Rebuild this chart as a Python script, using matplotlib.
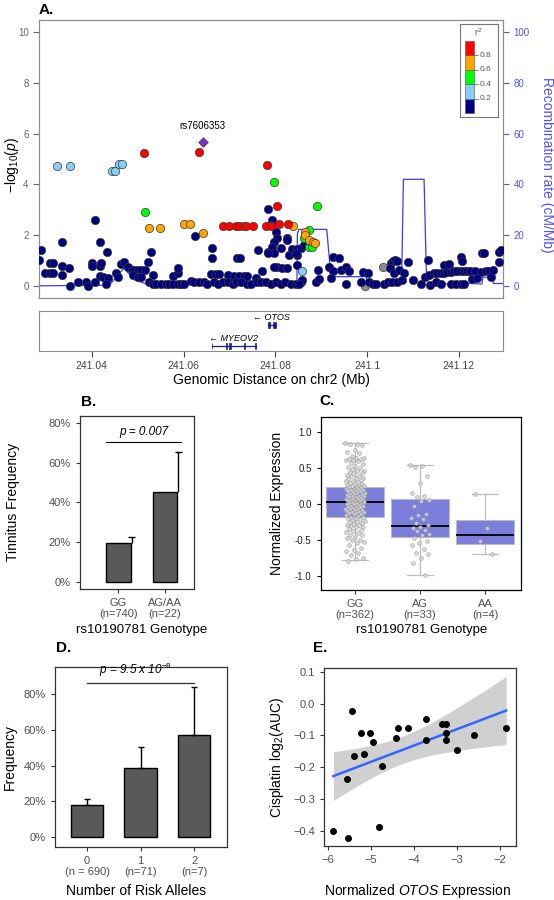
import numpy as np
import matplotlib
matplotlib.use("Agg")
import matplotlib.pyplot as plt
from matplotlib.patches import Rectangle

plt.rcParams["font.family"] = ["Liberation Sans", "DejaVu Sans"]
plt.rcParams["mathtext.fontset"] = "custom"
plt.rcParams["mathtext.rm"] = "Liberation Sans"
plt.rcParams["mathtext.it"] = "Liberation Sans:italic"
plt.rcParams["mathtext.bf"] = "Liberation Sans:bold"

# ---------------- A. regional association plot ----------------
navy_mb = [241.0286, 241.0290, 241.0297, 241.0308, 241.0308, 241.0315, 241.0315, 241.0335, 241.0335, 241.0336,
           241.0351, 241.0353, 241.0370, 241.0388, 241.0391, 241.0401, 241.0401, 241.0406, 241.0408, 241.0417,
           241.0417, 241.0420, 241.0417, 241.0424, 241.0433, 241.0435, 241.0431, 241.0453, 241.0457, 241.0464,
           241.0470, 241.0478, 241.0488, 241.0493, 241.0500, 241.0507, 241.0515, 241.0489, 241.0500, 241.0507,
           241.0522, 241.0528, 241.0533, 241.0525, 241.0533, 241.0540, 241.0551, 241.0562, 241.0569, 241.0576,
           241.0587, 241.0594, 241.0601, 241.0616, 241.0623, 241.0634, 241.0645, 241.0652, 241.0576, 241.0587,
           241.0587, 241.0625, 241.0663, 241.0663, 241.0659, 241.0670, 241.0678, 241.0667, 241.0674, 241.0685,
           241.0696, 241.0710, 241.0721, 241.0732, 241.0739, 241.0717, 241.0723, 241.0696, 241.0707, 241.0714,
           241.0725, 241.0739, 241.0746, 241.0757, 241.0761, 241.0768, 241.0779, 241.0790, 241.0801, 241.0812,
           241.0822, 241.0833, 241.0844, 241.0855, 241.0762, 241.0770, 241.0784, 241.0784, 241.0792, 241.0790,
           241.0801, 241.0803, 241.0797, 241.0793, 241.0797, 241.0783, 241.0804, 241.0797, 241.0815, 241.0825,
           241.0812, 241.0825, 241.0826, 241.0830, 241.0837, 241.0848, 241.0855, 241.0848, 241.0848, 241.0862,
           241.0845, 241.0859, 241.0852, 241.0892, 241.0888, 241.0896, 241.0925, 241.0939, 241.0917, 241.0926,
           241.0921, 241.0943, 241.0954, 241.0961, 241.0955, 241.0986, 241.0990, 241.1001, 241.1004, 241.1012,
           241.1020, 241.1037, 241.1046, 241.1051, 241.1057, 241.1061, 241.1066, 241.1049, 241.1059, 241.1070,
           241.1055, 241.1066, 241.1077, 241.1080, 241.1089, 241.1099, 241.1117, 241.1133, 241.1138, 241.1126,
           241.1135, 241.1146, 241.1153, 241.1160, 241.1167, 241.1175, 241.1182, 241.1189, 241.1196, 241.1204,
           241.1211, 241.1218, 241.1225, 241.1236, 241.1247, 241.1258, 241.1265, 241.1167, 241.1178, 241.1204,
           241.1207, 241.1182, 241.1193, 241.1204, 241.1211, 241.1251, 241.1255, 241.1229, 241.1240, 241.1269,
           241.1274, 241.1287, 241.1288, 241.1291, 241.1149, 241.1160]
navy_logp = [1.02, 1.42, 0.50, 0.50, 0.89, 0.50, 0.89, 0.79, 0.43, 1.75,
             0.70, 0.01, 0.14, 0.14, 0.02, 0.89, 0.80, 0.14, 2.60, 1.72,
             0.80, 0.89, 0.39, 0.37, 1.33, 0.30, 0.10, 0.50, 0.37, 0.85,
             0.96, 0.76, 0.63, 0.63, 0.63, 0.63, 0.63, 0.43, 0.37, 0.37,
             0.96, 1.35, 0.43, 0.14, 0.10, 0.10, 0.10, 0.10, 0.10, 0.10,
             0.07, 0.10, 0.10, 0.20, 0.14, 0.14, 0.14, 0.10, 0.41, 0.50,
             0.72, 1.98, 1.48, 1.09, 0.46, 0.46, 0.46, 0.14, 0.07, 0.14,
             0.43, 0.41, 0.41, 0.41, 0.41, 1.09, 1.09, 0.14, 0.10, 0.14,
             0.14, 0.07, 0.10, 0.33, 0.14, 0.14, 0.14, 0.10, 0.14, 0.10,
             0.14, 0.10, 0.10, 0.14, 1.42, 0.59, 1.33, 3.03, 2.60, 2.40,
             2.14, 1.88, 1.75, 1.55, 1.29, 1.29, 0.76, 0.76, 0.72, 0.70,
             1.48, 1.90, 1.81, 1.22, 1.46, 1.46, 1.51, 1.22, 0.83, 1.61,
             1.29, 0.24, 0.10, 0.63, 0.17, 0.26, 1.15, 1.09, 0.76, 0.60,
             0.30, 0.63, 0.76, 0.60, 0.10, 0.17, 0.56, 0.50, 0.17, 0.10,
             0.08, 0.08, 0.17, 0.89, 0.98, 1.02, 0.98, 0.70, 0.50, 0.63,
             0.17, 0.17, 0.24, 0.50, 0.96, 0.24, 0.08, 1.02, 0.04, 0.37,
             0.43, 0.50, 0.50, 0.52, 0.52, 0.56, 0.56, 0.60, 0.60, 0.60,
             0.60, 0.60, 0.60, 0.60, 0.56, 0.60, 0.60, 0.83, 0.87, 1.15,
             1.00, 0.10, 0.10, 0.08, 0.10, 1.29, 1.29, 0.26, 0.30, 0.37,
             0.63, 1.35, 0.96, 1.42, 0.17, 0.10]
grey_mb = [241.1035, 241.0995]
grey_logp = [0.76, 0.00]
lblue_mb = [241.0325, 241.0352, 241.0445, 241.0450, 241.0460, 241.0465, 241.0859]
lblue_logp = [4.74, 4.72, 4.54, 4.54, 4.79, 4.81, 0.60]
green_mb = [241.0517, 241.0796, 241.0891, 241.0874, 241.0862, 241.0874, 241.0879]
green_logp = [2.90, 4.11, 3.16, 2.20, 1.88, 1.55, 1.55]
orange_mb = [241.0524, 241.0549, 241.0600, 241.0614, 241.0643, 241.0839, 241.0865, 241.0865,
             241.0874, 241.0881, 241.0886]
orange_logp = [2.30, 2.30, 2.43, 2.43, 2.07, 2.37, 2.11, 2.01, 1.81, 1.75, 1.68]
red_mb = [241.0513, 241.0633, 241.0782, 241.0804, 241.0686, 241.0698, 241.0715, 241.0720, 241.0732,
          241.0735, 241.0752, 241.0779, 241.0790, 241.0808, 241.0828]
red_logp = [5.25, 5.29, 4.78, 3.16, 2.36, 2.36, 2.36, 2.36, 2.36, 2.36, 2.36, 2.36, 2.36, 2.43, 2.43]
lead_snp = "rs7606353"
lead_mb = 241.0642
lead_logp = 5.66

recomb_mb = [241.0285, 241.0438, 241.0470, 241.0493, 241.0522, 241.0707, 241.0765, 241.0847, 241.0848,
             241.0851, 241.0912, 241.0921, 241.0997, 241.1002, 241.1075, 241.1079, 241.1124, 241.1129,
             241.1149, 241.1152, 241.1200, 241.1205, 241.1250, 241.1252, 241.1273, 241.1275, 241.1296]
recomb_rate = [0.1, 0.3, 7.0, 2.4, 0.7, 0.8, 1.4, 1.4, 20.5, 22.3, 22.3, 3.7, 3.7, 0.6, 0.6, 42.0, 42.0,
               5.0, 5.0, 1.0, 0.6, 1.2, 0.8, 3.5, 3.5, 1.0, 1.0]

r2_colors = ["#000080", "#87CEFA", "#00FF00", "#FFA500", "#FF0000"]
r2_breaks = ["0.2", "0.4", "0.6", "0.8"]

gene_names = ["OTOS", "MYEOV2"]
gene_start = [241.0783, 241.0661]
gene_end = [241.0801, 241.0757]
gene_exons = [[(241.0783, 241.0788), (241.0795, 241.0801)],
              [(241.0661, 241.0663), (241.06925, 241.06945), (241.0700, 241.0704),
               (241.0732, 241.0734), (241.0755, 241.0757)]]
gene_ticks = [241.04, 241.06, 241.08, 241.10, 241.12]
gene_tick_labels = ["241.04", "241.06", "241.08", "241.1", "241.12"]

# ---------------- B. tinnitus by genotype ----------------
b_groups = ["GG\n(n=740)", "AG/AA\n(n=22)"]
b_freq = [19.5, 45.5]
b_upper = [22.4, 65.5]
b_pval = "p = 0.007"

# ---------------- C. expression by genotype ----------------
c_groups = ["GG\n(n=362)", "AG\n(n=33)", "AA\n(n=4)"]
c_med = [0.02, -0.31, -0.43]
c_q1 = [-0.19, -0.47, -0.56]
c_q3 = [0.23, 0.07, -0.225]
c_lo = [-0.79, -0.99, -0.70]
c_hi = [0.84, 0.54, 0.14]
gg_expr = [0.84, 0.83, 0.83, 0.82, 0.74, 0.72, 0.70, 0.66, 0.64, 0.63, 0.62, 0.62, 0.61, 0.60, 0.59,
           0.57, 0.55, 0.53, 0.51, 0.50, 0.48, 0.46, 0.45, 0.44, 0.43, 0.42, 0.40, 0.39, 0.38, 0.36,
           0.35, 0.34, 0.33, 0.32, 0.31, 0.30, 0.29, 0.28, 0.27, 0.26, 0.25, 0.25, 0.24, 0.23, 0.23,
           0.22, 0.21, 0.21, 0.20, 0.19, 0.19, 0.18, 0.17, 0.17, 0.16, 0.15, 0.15, 0.14, 0.13, 0.13,
           0.12, 0.11, 0.11, 0.10, 0.09, 0.09, 0.08, 0.07, 0.07, 0.06, 0.05, 0.05, 0.04, 0.03, 0.03,
           0.02, 0.02, 0.01, 0.01, 0.00, -0.01, -0.01, -0.02, -0.03, -0.03, -0.04, -0.05, -0.05, -0.06,
           -0.07, -0.07, -0.08, -0.09, -0.09, -0.10, -0.11, -0.11, -0.12, -0.13, -0.13, -0.14, -0.15,
           -0.16, -0.17, -0.18, -0.19, -0.20, -0.21, -0.22, -0.23, -0.24, -0.25, -0.26, -0.27, -0.28,
           -0.29, -0.30, -0.31, -0.32, -0.33, -0.35, -0.36, -0.38, -0.40, -0.41, -0.43, -0.44, -0.46,
           -0.48, -0.50, -0.51, -0.53, -0.55, -0.58, -0.62, -0.65, -0.66, -0.68, -0.72, -0.75, -0.77,
           -0.80]
ag_expr = [0.54, 0.52, 0.51, 0.38, 0.29, 0.15, 0.10, 0.09, 0.05, 0.04, -0.03, -0.14, -0.16, -0.20,
           -0.21, -0.27, -0.30, -0.33, -0.34, -0.36, -0.38, -0.42, -0.44, -0.48, -0.52, -0.55, -0.57,
           -0.63, -0.69, -0.70, -0.76, -0.82, -0.99]
aa_expr = [0.14, -0.34, -0.52, -0.70]

# ---------------- D. risk alleles ----------------
d_groups = ["0\n(n = 690)", "1\n(n=71)", "2\n(n=7)"]
d_freq = [17.8, 38.6, 57.1]
d_upper = [21.0, 50.5, 84.3]

# ---------------- E. cisplatin vs OTOS expression ----------------
e_expr = [-5.44, -5.23, -5.02, -4.94, -5.39, -5.17, -5.56, -4.75, -5.87, -5.54, -4.81, -4.41,
          -4.36, -4.13, -3.73, -3.73, -3.34, -3.26, -3.26, -3.26, -3.01, -2.60, -1.86]
e_auc = [-0.024, -0.091, -0.091, -0.122, -0.164, -0.157, -0.236, -0.196, -0.400, -0.422, -0.389,
         -0.109, -0.077, -0.078, -0.049, -0.113, -0.064, -0.064, -0.092, -0.116, -0.145, -0.099, -0.078]

TICK_GREY = "#4d4d4d"
BLUE_R = "#5050ff"

fig = plt.figure(figsize=(5.54, 9.0), dpi=100)


def px_axes(x0, y0, x1, y1):
    # pixel box (top-left origin) -> figure axes
    return fig.add_axes([x0 / 554, 1 - y1 / 900, (x1 - x0) / 554, (y1 - y0) / 900])


def panel_letter(x, y, s):
    fig.text(x / 554, 1 - y / 900, s, fontsize=11, fontweight="bold", va="center", ha="left")


def place_ylabel(ax, x):
    ax.yaxis.set_label_coords(x, 0.5)
    ax.yaxis.label.set_verticalalignment("center")


def place_xlabel(ax, x, y):
    ax.xaxis.set_label_coords(x, y)
    ax.xaxis.label.set_verticalalignment("center")


# ---- A ----
axA = px_axes(39, 20, 503, 298)
axR = axA.twinx()
axA.set_zorder(axR.get_zorder() + 1)
axA.patch.set_visible(False)
xlimA = (241.0285, 241.1296)

axR.plot(recomb_mb, recomb_rate, color="#3a3aff", lw=0.9)
axR.set_ylim(-4.7, 104.7)
axR.set_yticks([0, 20, 40, 60, 80, 100])
axR.tick_params(axis="y", colors=BLUE_R, labelsize=7, length=4, width=0.8)
axR.set_ylabel("Recombination rate (cM/Mb)", color=BLUE_R, fontsize=10, rotation=270, va="center")
axR.yaxis.set_label_coords(1.095, 0.48)

pt = dict(s=36, edgecolors="#3a3a3a", linewidths=0.5, zorder=3)
axA.scatter(grey_mb, grey_logp, c="#8c8c8c", **pt)
axA.scatter(navy_mb, navy_logp, c=r2_colors[0], **pt)
axA.scatter(lblue_mb, lblue_logp, c=r2_colors[1], **pt)
axA.scatter(green_mb, green_logp, c=r2_colors[2], **pt)
axA.scatter(orange_mb, orange_logp, c=r2_colors[3], **pt)
axA.scatter(red_mb, red_logp, c=r2_colors[4], **pt)
axA.scatter([lead_mb], [lead_logp], c="#7f2fc9", marker="D", s=24, edgecolors="#3a3a3a",
            linewidths=0.5, zorder=4)
axA.annotate(lead_snp, (lead_mb, lead_logp), xytext=(0, 8), textcoords="offset points",
             ha="center", va="bottom", fontsize=7)
axA.set_xlim(xlimA)
axR.set_xlim(xlimA)
axA.set_ylim(-0.47, 10.47)
axA.set_xticks([])
axA.set_yticks([0, 2, 4, 6, 8, 10])
axA.tick_params(axis="y", colors="#666666", labelsize=7, length=4, width=0.8)
axA.set_ylabel(r"$-$log$_{10}$($\it{p}$)", fontsize=10)
axA.yaxis.set_label_coords(-0.058, 0.48)
axA.yaxis.label.set_verticalalignment("center")
for ax in (axA, axR):
    for sp in ax.spines.values():
        sp.set_color("#8c8c8c")
        sp.set_linewidth(0.8)

# r2 legend box
axL = px_axes(460, 24, 498, 117)
axL.set_zorder(axA.get_zorder() + 1)
axL.set_xlim(0, 1)
axL.set_ylim(0, 1)
axL.set_xticks([])
axL.set_yticks([])
for sp in axL.spines.values():
    sp.set_color("#777777")
    sp.set_linewidth(0.8)
seg_h = 0.156
for i, col in enumerate(r2_colors):
    axL.add_patch(Rectangle((0.13, 0.04 + i * seg_h), 0.24, seg_h, facecolor=col,
                            edgecolor="#555555", lw=0.4))
for i, lab in enumerate(r2_breaks):
    yb = 0.04 + (i + 1) * seg_h
    axL.plot([0.37, 0.47], [yb, yb], color="#555555", lw=0.5)
    axL.text(0.52, yb, lab, fontsize=6, color="#555555", va="center", ha="left")
axL.text(0.47, 0.91, r"r$^2$", fontsize=6.5, color="#555555", ha="center", va="center")

# gene track
axG = px_axes(39, 311, 503, 351)
axG.set_xlim(xlimA)
axG.set_ylim(0, 1)
axG.set_yticks([])
axG.set_xticks(gene_ticks)
axG.set_xticklabels(gene_tick_labels)
axG.tick_params(axis="x", colors="#444444", labelsize=7.5, length=4, width=0.8)
for sp in axG.spines.values():
    sp.set_color("#8c8c8c")
    sp.set_linewidth(0.8)
gene_rows = [0.65, 0.13]
for name, g0, g1, exons, yr in zip(gene_names, gene_start, gene_end, gene_exons, gene_rows):
    axG.plot([g0, g1], [yr, yr], color="#1a1aa0", lw=0.9)
    for e0, e1 in exons:
        axG.add_patch(Rectangle((e0, yr - 0.07), e1 - e0, 0.14, facecolor="#1a1aa0",
                                edgecolor="#1a1aa0", lw=0.5))
    axG.text((g0 + g1) / 2, yr + 0.18, "\u2190 " + name, fontsize=6.5, style="italic",
             ha="center", va="center")
axG.set_xlabel("Genomic Distance on chr2 (Mb)", fontsize=10)
place_xlabel(axG, 0.5, -0.72)


def style_gg(ax, spine="#333333", labcol=TICK_GREY):
    for sp in ax.spines.values():
        sp.set_color(spine)
        sp.set_linewidth(0.9)
    ax.tick_params(colors="#333333", labelcolor=labcol, length=3, width=0.8, labelsize=8)


# ---- B ----
axB = px_axes(80, 415.7, 194, 589)
xb = np.arange(1, len(b_groups) + 1)
wb = 0.53
axB.bar(xb, b_freq, width=wb, color="#595959", edgecolor="black", lw=1, zorder=2)
axB.errorbar(xb + wb / 2 + 0.02, b_upper, yerr=[np.subtract(b_upper, b_freq), np.zeros(len(xb))],
             fmt="none", ecolor="black", elinewidth=1, capsize=0, zorder=3)
axB.errorbar(xb + wb / 2 + 0.02, b_upper, xerr=0.07, fmt="none", ecolor="black",
             elinewidth=1, zorder=3)
axB.plot([xb[0] - wb / 2, xb[-1] + wb / 2 + 0.08], [70.3, 70.3], color="black", lw=0.8)
axB.text(xb.mean() + 0.05, 72.5, b_pval, fontsize=8.5, style="italic", ha="center", va="bottom")
axB.set_xlim(0.18, 2.62)
axB.set_ylim(-3.7, 83.8)
axB.set_yticks([0, 20, 40, 60, 80])
axB.set_yticklabels([f"{v}%" for v in [0, 20, 40, 60, 80]])
axB.set_xticks(xb)
axB.set_xticklabels(b_groups, linespacing=1.15)
style_gg(axB)
axB.set_ylabel("Tinnitus Frequency", fontsize=10)
place_ylabel(axB, -0.59)
axB.set_xlabel("rs10190781 Genotype", fontsize=9.5)
place_xlabel(axB, 0.54, -0.237)

# ---- C ----
axC = px_axes(320.7, 417.3, 520.7, 590)
xc = np.arange(1, len(c_groups) + 1)
stats = [dict(med=m, q1=a, q3=b, whislo=lo, whishi=hi, fliers=[])
         for m, a, b, lo, hi in zip(c_med, c_q1, c_q3, c_lo, c_hi)]
axC.bxp(stats, positions=xc, widths=0.9, patch_artist=True, showfliers=False, capwidths=0.4,
        boxprops=dict(facecolor="#7b7edb", edgecolor="#bdbdbd", lw=0.8),
        medianprops=dict(color="black", lw=1.3),
        whiskerprops=dict(color="#bdbdbd", lw=0.9),
        capprops=dict(color="#bdbdbd", lw=0.9), zorder=2)


def jitter(n, width):
    return ((np.arange(n) * 0.618034) % 1.0 - 0.5) * width


for x0, vals in zip(xc, [gg_expr, ag_expr, aa_expr]):
    axC.scatter(x0 + jitter(len(vals), 0.3), vals, s=7, facecolors="#d9d9d9",
                edgecolors="#9a9a9a", linewidths=0.5, alpha=0.85, zorder=3)
axC.set_xlim(0.47, 3.55)
axC.set_ylim(-1.2, 1.2)
axC.set_yticks([-1.0, -0.5, 0.0, 0.5, 1.0])
axC.set_yticklabels(["-1.0", "-0.5", "0.0", "0.5", "1.0"])
axC.set_xticks(xc)
axC.set_xticklabels(c_groups, linespacing=1.15)
style_gg(axC, spine="black")
axC.tick_params(axis="y", labelcolor="#222222", labelsize=7, colors="black")
axC.tick_params(axis="x", labelcolor=TICK_GREY, labelsize=8)
axC.set_ylabel("Normalized Expression", fontsize=10)
place_ylabel(axC, -0.22)
axC.set_xlabel("rs10190781 Genotype", fontsize=9.5)
place_xlabel(axC, 0.505, -0.232)

# ---- D ----
axD = px_axes(55, 667.3, 226.7, 846.7)
xd = np.arange(1, len(d_groups) + 1)
wd = 0.61
axD.bar(xd, d_freq, width=wd, color="#595959", edgecolor="black", lw=1, zorder=2)
axD.errorbar(xd, d_freq, yerr=[np.zeros(len(xd)), np.subtract(d_upper, d_freq)], fmt="none",
             ecolor="black", elinewidth=1, capsize=2.2, capthick=1, zorder=3)
axD.plot([xd[0], xd[-1]], [86.5, 86.5], color="#333333", lw=0.9)
axD.text(xd.mean() - 0.1, 88.5, r"$\it{p}$ = 9.5 x 10$^{-8}$", fontsize=8.5, style="italic",
         ha="center", va="bottom")
axD.set_xlim(0.4, 3.61)
axD.set_ylim(-5.6, 95.2)
axD.set_yticks([0, 20, 40, 60, 80])
axD.set_yticklabels([f"{v}%" for v in [0, 20, 40, 60, 80]])
axD.set_xticks(xd)
axD.set_xticklabels(d_groups, linespacing=1.15)
style_gg(axD)
axD.set_ylabel("Frequency", fontsize=10)
place_ylabel(axD, -0.26)
axD.set_xlabel("Number of Risk Alleles", fontsize=10)
place_xlabel(axD, 0.47, -0.247)

# ---- E ----
axE = px_axes(324.3, 668.3, 515.7, 845.7)
ex = np.asarray(e_expr)
ey = np.asarray(e_auc)
n = len(ex)
slope, icpt = np.polyfit(ex, ey, 1)
xs = np.linspace(ex.min(), ex.max(), 80)
fit = icpt + slope * xs
resid = ey - (icpt + slope * ex)
s_err = np.sqrt(np.sum(resid ** 2) / (n - 2))
sxx = np.sum((ex - ex.mean()) ** 2)
half = 2.08 * s_err * np.sqrt(1.0 / n + (xs - ex.mean()) ** 2 / sxx)
axE.fill_between(xs, fit - half, fit + half, color="#d0d0d0", lw=0, zorder=1)
axE.plot(xs, fit, color="#3366ff", lw=1.8, zorder=3)
axE.scatter(ex, ey, s=16, color="black", zorder=4)
axE.set_xlim(-6.08, -1.64)
axE.set_ylim(-0.447, 0.111)
axE.set_xticks([-6, -5, -4, -3, -2])
axE.set_yticks([-0.4, -0.3, -0.2, -0.1, 0.0, 0.1])
style_gg(axE)
axE.set_ylabel(r"Cisplatin log$_2$(AUC)", fontsize=10)
place_ylabel(axE, -0.245)
axE.set_xlabel(r"Normalized $\it{OTOS}$ Expression", fontsize=10)
place_xlabel(axE, 0.485, -0.255)

panel_letter(39, 10, "A.")
panel_letter(81, 402, "B.")
panel_letter(319, 401, "C.")
panel_letter(56, 648, "D.")
panel_letter(313, 648, "E.")

fig.savefig("out.png", dpi=100)
